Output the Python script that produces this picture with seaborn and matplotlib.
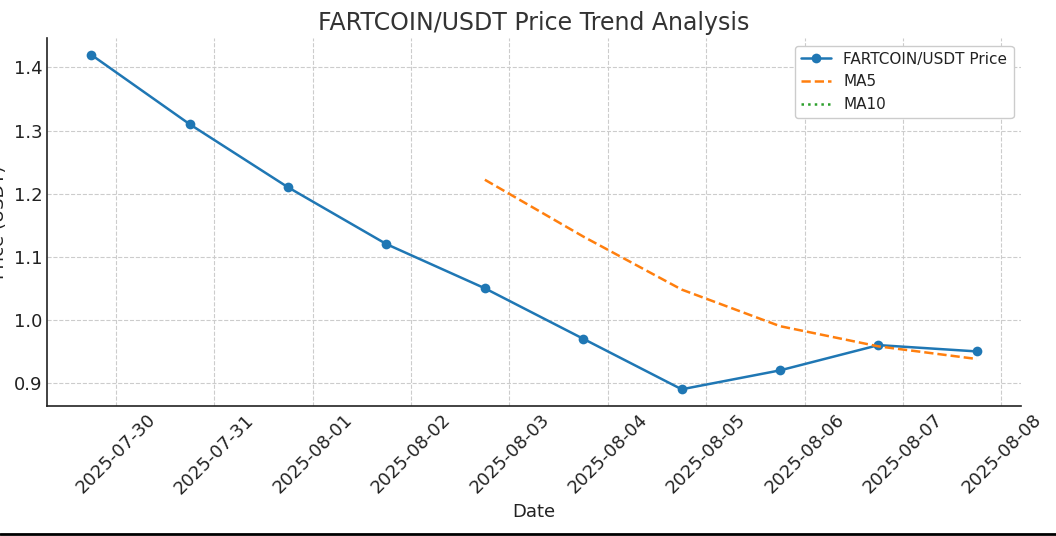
import matplotlib
matplotlib.use("Agg")
import matplotlib.pyplot as plt
import matplotlib.dates as mdates
from matplotlib.lines import Line2D
import numpy as np
import pandas as pd
import seaborn as sns

TITLE = "FARTCOIN/USDT Price Trend Analysis"

# data
dates = ["2025-07-29 18:00", "2025-07-30 18:00", "2025-07-31 18:00", "2025-08-01 18:00",
         "2025-08-02 18:00", "2025-08-03 18:00", "2025-08-04 18:00", "2025-08-05 18:00",
         "2025-08-06 18:00", "2025-08-07 18:00"]
price = [1.42, 1.31, 1.21, 1.12, 1.05, 0.97, 0.89, 0.92, 0.96, 0.95]
ma5 = [np.nan, np.nan, np.nan, np.nan, 1.222, 1.132, 1.048, 0.990, 0.958, 0.938]
ma10 = [np.nan] * 9 + [1.08]

df = pd.DataFrame({"Date": pd.to_datetime(dates), "Price": price, "MA5": ma5, "MA10": ma10})

sns.set_style("whitegrid", {"grid.linestyle": "--", "grid.color": "#cccccc",
                            "axes.edgecolor": "#222222", "xtick.direction": "in",
                            "ytick.direction": "in"})
plt.rcParams["font.family"] = ["DejaVu Sans"]

fig = plt.figure(figsize=(10.56, 5.36), dpi=100)
ax = fig.add_axes([0.0445, 0.2425, 0.9225, 0.6865])

sns.lineplot(data=df, x="Date", y="Price", ax=ax, marker="o", markersize=7,
             markeredgewidth=0, color="#1f77b4", linewidth=1.8, label="FARTCOIN/USDT Price")
sns.lineplot(data=df, x="Date", y="MA5", ax=ax, color="#ff7f0e", linewidth=1.8,
             linestyle="--", label="MA5")
sns.lineplot(data=df, x="Date", y="MA10", ax=ax, color="#2ca02c", linewidth=1.8,
             linestyle=":", label="MA10")

ax.set_title(TITLE, fontsize=17, color="#333333", pad=6)
ax.set_xlabel("Date", fontsize=13, color="#222222")
ax.set_ylabel("Price (USDT)", fontsize=13, color="#222222")
ax.xaxis.set_major_locator(mdates.DayLocator())
ax.xaxis.set_major_formatter(mdates.DateFormatter("%Y-%m-%d"))
ax.tick_params(axis="both", labelsize=13, colors="#222222", length=5, width=1)
plt.setp(ax.get_xticklabels(), rotation=45, ha="center")
ax.yaxis.set_major_locator(matplotlib.ticker.MultipleLocator(0.1))

for s in ["top", "right"]:
    ax.spines[s].set_visible(False)
for s in ["left", "bottom"]:
    ax.spines[s].set_linewidth(1.2)

leg = ax.legend(loc="upper right", fontsize=11, frameon=True, fancybox=True,
                edgecolor="#cccccc", framealpha=1)
for t in leg.get_texts():
    t.set_color("#222222")

fig.add_artist(Line2D([0, 1], [0.003, 0.003], transform=fig.transFigure,
                      color="black", linewidth=2))

fig.savefig("out.png", dpi=100)
